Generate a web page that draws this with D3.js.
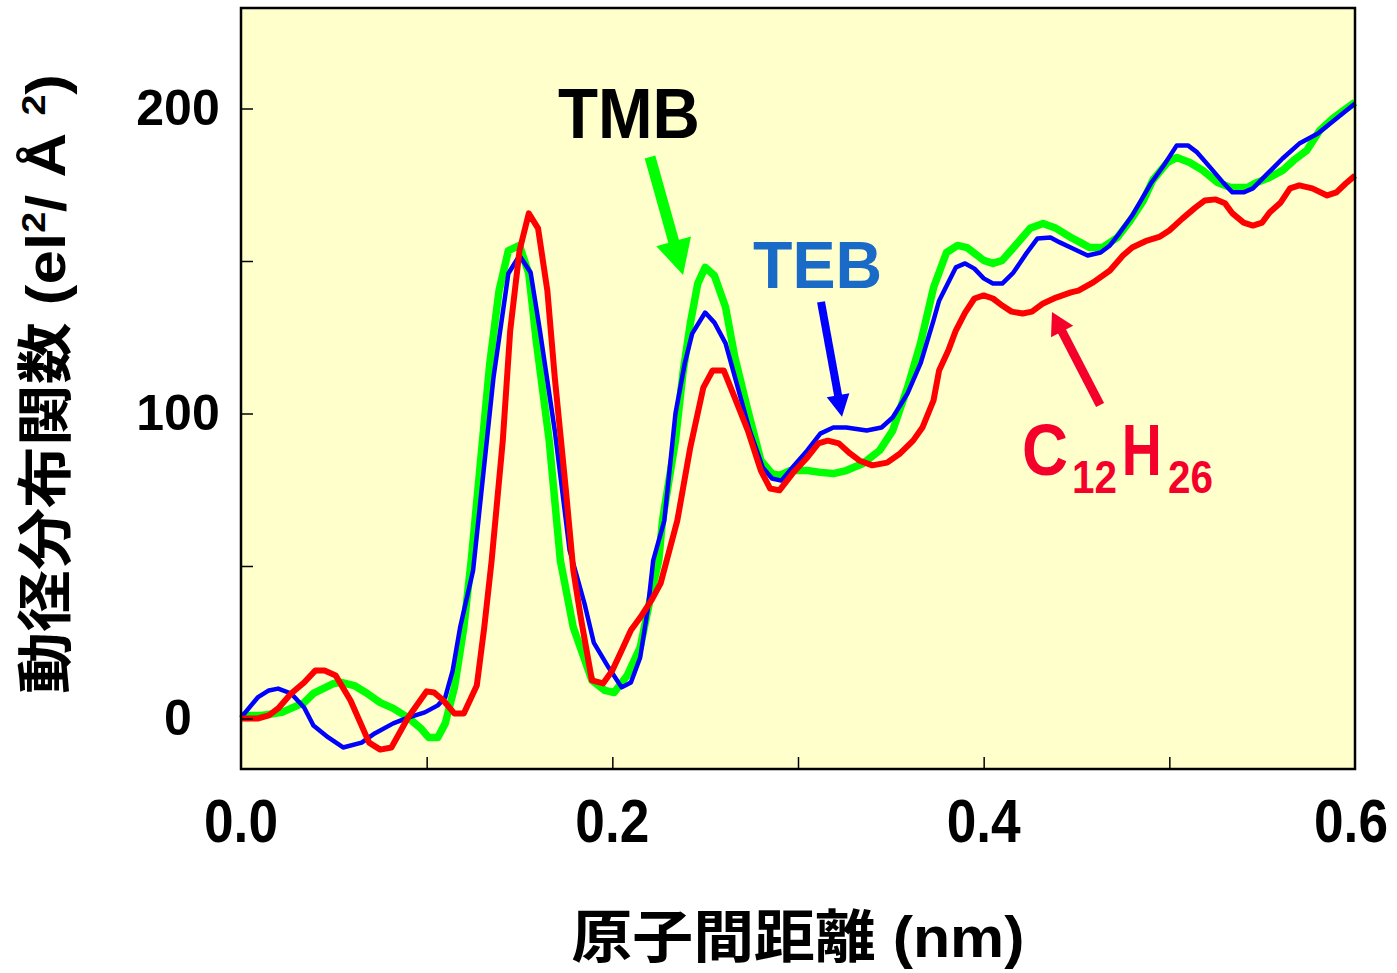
<!DOCTYPE html>
<html><head><meta charset="utf-8">
<script src="https://cdn.jsdelivr.net/npm/d3@7"></script>
<style>html,body{margin:0;padding:0;background:#fff;} svg{display:block;}</style>
</head><body>
<svg id="chart" width="1397" height="973"></svg>
<script>
// ---- data (r in nm, g in el^2/Å^2) ----
const xTicks = [0.1, 0.2, 0.3, 0.4, 0.5];
const xTickLabels = [0, 0.2, 0.4, 0.6];
const yTicks = [0, 50, 100, 150, 200];
const yTickLabels = [0, 100, 200];

const tmb = [[0,1.0],[.011,1.0],[.022,2.0],[.034,5.2],[.039,8.2],[.050,11.5],[.054,11.8],[.061,10.8],[.068,8.2],[.075,5.2],
[.082,3.3],[.090,0.3],[.097,-3.3],[.101,-6.2],[.106,-6.2],[.110,-1.6],[.115,10.2],[.120,29.8],[.124,51.8],[.134,116.4],
[.139,140.3],[.144,153.4],[.150,155.1],[.155,145.9],[.159,123.9],[.166,91.1],[.172,51.8],[.179,29.8],[.189,12.5],[.196,9.2],
[.201,8.5],[.208,14.1],[.215,23.3],[.221,41.0],[.225,51.8],[.227,64.9],[.234,91.1],[.238,113.1],[.242,129.5],[.246,142.6],
[.250,147.9],[.255,145.2],[.261,134.8],[.266,118.4],[.273,101.0],[.280,84.6],[.286,80.3],[.290,79.7],[.296,81.3],[.305,81.3],
[.312,80.7],[.319,80.3],[.326,81.3],[.335,83.6],[.344,87.9],[.351,94.4],[.359,108.5],[.366,123.0],[.373,141.3],[.380,152.8],
[.386,155.1],[.391,154.4],[.400,150.2],[.405,149.2],[.410,150.2],[.418,155.7],[.425,160.7],[.432,162.3],[.439,160.7],[.447,157.7],
[.452,156.1],[.457,154.4],[.464,154.4],[.472,157.7],[.479,163.3],[.486,169.8],[.491,176.4],[.499,182.3],[.504,183.9],[.511,182.3],
[.518,179.7],[.526,175.7],[.533,174.1],[.542,174.1],[.547,175.7],[.554,177.4],[.561,179.7],[.567,183.0],[.574,186.2],[.581,192.8],
[.588,196.7],[.596,200.3],[.600,202.0]];

const teb = [[0,0.3],[.009,6.9],[.015,9.2],[.020,9.8],[.027,8.2],[.034,3.6],[.039,-2.3],[.047,-6.2],[.055,-9.5],[.065,-7.9],
[.072,-4.9],[.082,-1.6],[.090,0.3],[.099,2.0],[.106,4.3],[.110,6.9],[.114,15.7],[.118,29.8],[.125,48.5],[.136,111.8],
[.144,145.9],[.150,151.8],[.156,146.2],[.161,127.2],[.169,94.4],[.177,55.1],[.185,37.7],[.190,24.9],[.198,16.7],[.205,10.2],
[.210,11.8],[.215,20.0],[.219,35.4],[.222,51.8],[.228,64.9],[.234,100.0],[.239,116.4],[.243,126.2],[.250,133.1],[.255,129.8],
[.261,123.0],[.267,109.8],[.274,94.4],[.281,82.3],[.286,78.7],[.291,78.0],[.297,82.3],[.305,87.9],[.312,93.4],[.319,95.4],
[.326,95.4],[.337,94.4],[.345,95.4],[.351,98.7],[.359,106.6],[.366,116.4],[.373,130.5],[.376,137.0],[.385,147.9],[.390,149.2],
[.395,147.5],[.400,144.3],[.405,142.6],[.410,142.6],[.416,146.2],[.423,152.5],[.429,157.4],[.436,157.7],[.441,156.1],[.448,154.1],
[.456,151.8],[.463,152.8],[.468,155.1],[.473,159.0],[.480,164.9],[.490,175.4],[.497,181.3],[.504,187.9],[.510,187.9],[.515,185.6],
[.522,180.7],[.529,175.7],[.534,172.5],[.540,172.5],[.545,173.8],[.553,178.7],[.561,183.6],[.570,188.5],[.580,191.8],[.590,196.7],
[.600,201.6]];

const dodecane = [[0,0],[.009,0],[.015,1.0],[.020,3.3],[.027,8.2],[.034,11.8],[.040,15.7],[.045,15.7],[.051,14.1],[.059,5.9],
[.069,-7.9],[.075,-10.2],[.081,-9.5],[.090,0.3],[.100,8.9],[.104,8.5],[.109,5.9],[.115,1.6],[.120,1.6],[.127,10.8],
[.131,29.8],[.135,51.8],[.141,91.1],[.145,127.2],[.150,153.4],[.155,165.6],[.160,160.7],[.165,140.3],[.169,111.8],[.175,74.8],
[.179,48.5],[.183,33.1],[.189,12.5],[.195,11.5],[.200,15.7],[.205,22.3],[.210,28.9],[.215,33.1],[.221,38.7],[.226,44.3],
[.235,64.9],[.242,88.9],[.249,108.5],[.254,114.1],[.260,114.1],[.265,106.6],[.273,94.4],[.280,81.3],[.285,75.4],[.290,74.8],
[.297,80.3],[.305,85.6],[.311,90.2],[.316,91.1],[.322,90.2],[.328,86.9],[.333,84.6],[.340,83.0],[.348,83.9],[.355,86.9],
[.362,91.1],[.367,95.4],[.373,104.3],[.376,114.1],[.381,120.7],[.385,127.2],[.390,133.1],[.395,137.7],[.400,138.7],[.405,137.7],
[.410,135.4],[.415,133.4],[.421,132.8],[.426,133.4],[.432,136.1],[.439,138.0],[.447,139.7],[.451,140.3],[.459,143.0],[.468,146.9],
[.475,151.8],[.480,154.4],[.488,156.7],[.495,158.0],[.500,160.0],[.507,163.9],[.514,167.5],[.519,169.8],[.525,170.2],[.530,168.9],
[.534,165.6],[.540,162.6],[.545,161.6],[.550,162.6],[.554,165.9],[.560,169.2],[.565,173.8],[.570,174.8],[.577,173.8],[.585,171.5],
[.590,172.5],[.595,175.4],[.600,178.0]];

const seriesNames = ["TMB", "TEB", "C12H26"];
const seriesColors = ["#00ff00", "#0000ff", "#ff0000"];
const seriesWidths = [7.5, 4.5, 6];

// annotation anchors in data units [r, g]
const tmbArrow = [[0.2203, 184.1], [0.2381, 145.4]];
const tebArrow = [[0.3124, 136.6], [0.3237, 98.9]];
const dodArrow = [[0.4627, 102.8], [0.4368, 133.3]];

// ---- drawing ----
const svg = d3.select("#chart");
const x = d3.scaleLinear().domain([0, 0.6]).range([241, 1355]);
const y = d3.scaleLinear().domain([-16.56, 232.95]).range([769, 8]);
const latin = "'Liberation Sans', Arial, Helvetica, sans-serif";
const cjk = "'Liberation Sans', 'Noto Sans CJK JP', sans-serif";

svg.append("rect").attr("x", x(0)).attr("y", y(232.95))
  .attr("width", x(0.6) - x(0)).attr("height", y(-16.56) - y(232.95))
  .attr("fill", "#ffffcc");

const plot = svg.append("g");
const line = d3.line().x(d => x(d[0])).y(d => y(d[1]));
[tmb, teb, dodecane].forEach((s, i) => {
  plot.append("path").datum(s).attr("d", line)
    .attr("fill", "none").attr("stroke", seriesColors[i])
    .attr("stroke-width", seriesWidths[i])
    .attr("stroke-linejoin", "round").attr("stroke-linecap", "butt");
});

// axes with inward ticks
const xAxis = svg.append("g").attr("transform", `translate(0,${y(-16.56)})`)
  .call(d3.axisBottom(x).tickValues(xTicks).tickSizeInner(-12).tickSizeOuter(0).tickFormat(""));
const yAxis = svg.append("g").attr("transform", `translate(${x(0)},0)`)
  .call(d3.axisLeft(y).tickValues(yTicks).tickSizeInner(-12).tickSizeOuter(0).tickFormat(""));
[xAxis, yAxis].forEach(a => {
  a.select(".domain").remove();
  a.selectAll(".tick line").attr("stroke", "#000").attr("stroke-width", 1.5);
});

// frame
svg.append("rect").attr("x", x(0)).attr("y", y(232.95))
  .attr("width", x(0.6) - x(0)).attr("height", y(-16.56) - y(232.95))
  .attr("fill", "none").attr("stroke", "#000").attr("stroke-width", 2.5);

// tick labels
svg.append("g").selectAll("text").data(xTickLabels).join("text")
  .attr("x", d => Math.min(x(d), 1351)).attr("y", 842)
  .attr("text-anchor", "middle").attr("font-family", latin).attr("font-weight", "bold")
  .attr("font-size", 62).attr("textLength", 74).attr("lengthAdjust", "spacingAndGlyphs")
  .text(d => d3.format(".1f")(d));

svg.append("g").selectAll("text").data(yTickLabels).join("text")
  .attr("x", 178).attr("y", d => y(d) + 17)
  .attr("text-anchor", "middle").attr("font-family", latin).attr("font-weight", "bold")
  .attr("font-size", 50)
  .text(d => d);

// axis titles
svg.append("text").attr("x", 798).attr("y", 957)
  .attr("text-anchor", "middle").attr("font-family", cjk).attr("font-weight", "bold")
  .attr("font-size", 57).attr("textLength", 453).attr("lengthAdjust", "spacingAndGlyphs")
  .text("原子間距離 (nm)");

const yt = svg.append("text").attr("transform", "translate(65,384) rotate(-90)")
  .attr("text-anchor", "middle").attr("font-family", cjk).attr("font-weight", "bold")
  .attr("font-size", 56).attr("textLength", 620).attr("lengthAdjust", "spacingAndGlyphs");
yt.append("tspan").text("動径分布関数 (el");
yt.append("tspan").attr("font-size", 34).attr("dy", -20).text("2");
yt.append("tspan").attr("dy", 20).text("/ Å ");
yt.append("tspan").attr("font-size", 34).attr("dy", -20).text("2");
yt.append("tspan").attr("dy", 20).text(")");

// annotations
function arrow(pts, shaftW, headLen, headW, color) {
  const x0 = x(pts[0][0]), y0 = y(pts[0][1]), x1 = x(pts[1][0]), y1 = y(pts[1][1]);
  const dx = x1 - x0, dy = y1 - y0, L = Math.hypot(dx, dy), ux = dx / L, uy = dy / L;
  const bx = x1 - ux * headLen, by = y1 - uy * headLen;
  svg.append("line").attr("x1", x0).attr("y1", y0).attr("x2", bx + ux * 2).attr("y2", by + uy * 2)
    .attr("stroke", color).attr("stroke-width", shaftW);
  svg.append("polygon").attr("fill", color)
    .attr("points", [[x1, y1], [bx - uy * headW / 2, by + ux * headW / 2], [bx + uy * headW / 2, by - ux * headW / 2]].map(p => p.join(",")).join(" "));
}
arrow(tmbArrow, 11, 35, 36, "#00ff00");
arrow(tebArrow, 8, 22, 23, "#0000ff");
arrow(dodArrow, 9, 22, 25, "#f5002a");

function label(txt, r, g, size, len, color) {
  svg.append("text").attr("x", x(r)).attr("y", y(g))
    .attr("font-family", latin).attr("font-weight", "bold").attr("font-size", size)
    .attr("textLength", len).attr("lengthAdjust", "spacingAndGlyphs")
    .attr("fill", color).text(txt);
}
label(seriesNames[0], 0.1707, 190.3, 71, 142, "#000000");
label(seriesNames[1], 0.2758, 141.1, 67, 129, "#1a6ac8");
label("C", 0.4206, 79.8, 72, 46, "#f5002a");
label("12", 0.4476, 73.9, 46, 45, "#f5002a");
label("H", 0.4744, 79.8, 72, 40, "#f5002a");
label("26", 0.4993, 73.9, 46, 45, "#f5002a");
</script>
</body></html>
